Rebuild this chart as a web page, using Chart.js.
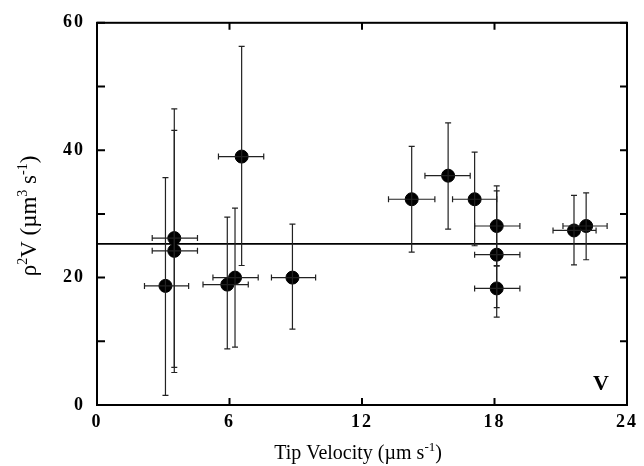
<!DOCTYPE html>
<html>
<head>
<meta charset="utf-8">
<script src="https://cdn.jsdelivr.net/npm/chart.js@4.4.1/dist/chart.umd.min.js"></script>
<style>
html,body{margin:0;padding:0;background:#fff;}
#wrap{width:644px;height:466px;position:relative;}
</style>
</head>
<body>
<div id="wrap"><canvas id="c" width="644" height="466"></canvas></div>
<script>
// ---- data ----
const tipVelocity = [3.1, 3.5, 3.5, 5.9, 6.25, 6.55, 8.85, 14.25, 15.9, 17.1, 18.1, 18.1, 18.1, 21.6, 22.15];
const rho2V       = [18.7, 26.2, 24.2, 18.9, 20.0, 39.0, 20.0, 32.3, 36.0, 32.3, 28.1, 23.6, 18.3, 27.4, 28.1];
const rho2VLow    = [1.5, 5.9, 5.1, 8.8, 9.1, 21.9, 11.9, 24.0, 27.6, 25.0, 21.9, 15.3, 13.8, 22.0, 22.8];
const rho2VHigh   = [35.7, 46.5, 43.1, 29.5, 30.9, 56.3, 28.4, 40.6, 44.3, 39.7, 34.4, 33.6, 21.8, 32.9, 33.3];
const velLow      = [2.15, 2.5, 2.5, 4.8, 5.25, 5.5, 7.9, 13.2, 14.85, 16.1, 17.1, 17.1, 17.1, 20.65, 21.1];
const velHigh     = [4.15, 4.55, 4.55, 6.85, 7.3, 7.55, 9.9, 15.3, 16.9, 18.1, 19.15, 19.15, 19.15, 22.6, 23.1];
const meanLineY   = 25.3;
const xTicks      = [0, 6, 12, 18, 24];
const yTicks      = [0, 20, 40, 60];
const yMinorTicks = [10, 30, 50];

const points = tipVelocity.map((x, i) => ({x: x, y: rho2V[i]}));

function drawSup(ctx, parts, x, y, size, supSize, rise) {
  const base = size + 'px "Liberation Serif", "Times New Roman", serif';
  const sup = supSize + 'px "Liberation Serif", "Times New Roman", serif';
  let total = 0;
  parts.forEach(p => { ctx.font = p[1] ? sup : base; total += ctx.measureText(p[0]).width; });
  let cx = x - total / 2;
  parts.forEach(p => {
    ctx.font = p[1] ? sup : base;
    ctx.fillText(p[0], cx, p[1] ? y - rise : y);
    cx += ctx.measureText(p[0]).width;
  });
}

const spacing = {
  id: 'spacing',
  beforeDraw(chart) { chart.ctx.letterSpacing = '2px'; }
};

const decor = {
  id: 'decor',
  afterDatasetsDraw(chart) {
    const {ctx, chartArea: a, scales: {x, y}} = chart;
    ctx.save();
    ctx.letterSpacing = '0px';
    // error bars
    ctx.strokeStyle = '#222';
    ctx.lineWidth = 1.2;
    for (let i = 0; i < tipVelocity.length; i++) {
      const px = x.getPixelForValue(tipVelocity[i]);
      const py = y.getPixelForValue(rho2V[i]);
      const yl = y.getPixelForValue(rho2VLow[i]);
      const yh = y.getPixelForValue(rho2VHigh[i]);
      const xl = x.getPixelForValue(velLow[i]);
      const xh = x.getPixelForValue(velHigh[i]);
      ctx.beginPath();
      ctx.moveTo(px, yl); ctx.lineTo(px, yh);
      ctx.moveTo(px - 3, yl); ctx.lineTo(px + 3, yl);
      ctx.moveTo(px - 3, yh); ctx.lineTo(px + 3, yh);
      ctx.moveTo(xl, py); ctx.lineTo(xh, py);
      ctx.moveTo(xl, py - 3); ctx.lineTo(xl, py + 3);
      ctx.moveTo(xh, py - 3); ctx.lineTo(xh, py + 3);
      ctx.stroke();
    }
    // frame
    ctx.strokeStyle = '#000';
    ctx.lineWidth = 2;
    ctx.strokeRect(a.left, a.top, a.right - a.left, a.bottom - a.top);
    // ticks
    ctx.beginPath();
    [...yTicks, ...yMinorTicks].forEach(v => {
      const py = y.getPixelForValue(v);
      ctx.moveTo(a.left, py); ctx.lineTo(a.left + 8, py);
      ctx.moveTo(a.right, py); ctx.lineTo(a.right - 7, py);
    });
    xTicks.slice(1, -1).forEach(v => {
      const px = x.getPixelForValue(v);
      ctx.moveTo(px, a.bottom); ctx.lineTo(px, a.bottom - 7);
      ctx.moveTo(px, a.top); ctx.lineTo(px, a.top + 7);
    });
    ctx.stroke();
    // panel label
    ctx.fillStyle = '#000';
    ctx.font = 'bold 22px "Liberation Serif", "Times New Roman", serif';
    ctx.textAlign = 'center';
    ctx.textBaseline = 'alphabetic';
    ctx.fillText('V', a.right - 26, a.bottom - 15);
    // axis titles
    ctx.textAlign = 'left';
    drawSup(ctx, [['Tip Velocity (\u00b5m s', false], ['-1', true], [')', false]], (a.left + a.right) / 2 - 4, 459, 20, 13, 8);
    ctx.save();
    ctx.translate(36, 216);
    ctx.rotate(-Math.PI / 2);
    drawSup(ctx, [['\u03c1', false], ['2', true], ['V (\u00b5m', false], ['3', true], [' s', false], ['-1', true], [')', false]], 0, 0, 23, 14, 9);
    ctx.restore();
    ctx.restore();
  }
};

const tickFont = {family: '"Liberation Serif", "Times New Roman", serif', size: 18, weight: 'bold'};

new Chart(document.getElementById('c'), {
  type: 'scatter',
  data: {
    datasets: [
      {
        data: points,
        backgroundColor: '#000',
        borderColor: '#000',
        pointRadius: 6.5,
        pointHoverRadius: 6.5,
        order: 0
      },
      {
        type: 'line',
        data: [{x: xTicks[0], y: meanLineY}, {x: xTicks[xTicks.length - 1], y: meanLineY}],
        borderColor: '#000',
        borderWidth: 1.6,
        pointRadius: 0,
        fill: false,
        order: 1
      }
    ]
  },
  plugins: [spacing, decor],
  options: {
    responsive: false,
    animation: false,
    events: [],
    layout: {padding: {left: 0, top: 18, right: 17, bottom: 0}},
    plugins: {legend: {display: false}, tooltip: {enabled: false}},
    scales: {
      x: {
        type: 'linear', min: 0, max: 24,
        afterBuildTicks: s => { s.ticks = xTicks.map(v => ({value: v})); },
        afterFit: s => { s.height = 61; },
        grid: {display: false, drawTicks: false},
        border: {display: false},
        ticks: {color: '#000', font: tickFont, padding: 7, maxRotation: 0, autoSkip: false}
      },
      y: {
        type: 'linear', min: 0, max: 60,
        afterBuildTicks: s => { s.ticks = yTicks.map(v => ({value: v})); },
        afterFit: s => { s.width = 97; },
        grid: {display: false, drawTicks: false},
        border: {display: false},
        ticks: {color: '#000', font: tickFont, padding: 12}
      }
    }
  }
});
</script>
</body>
</html>
